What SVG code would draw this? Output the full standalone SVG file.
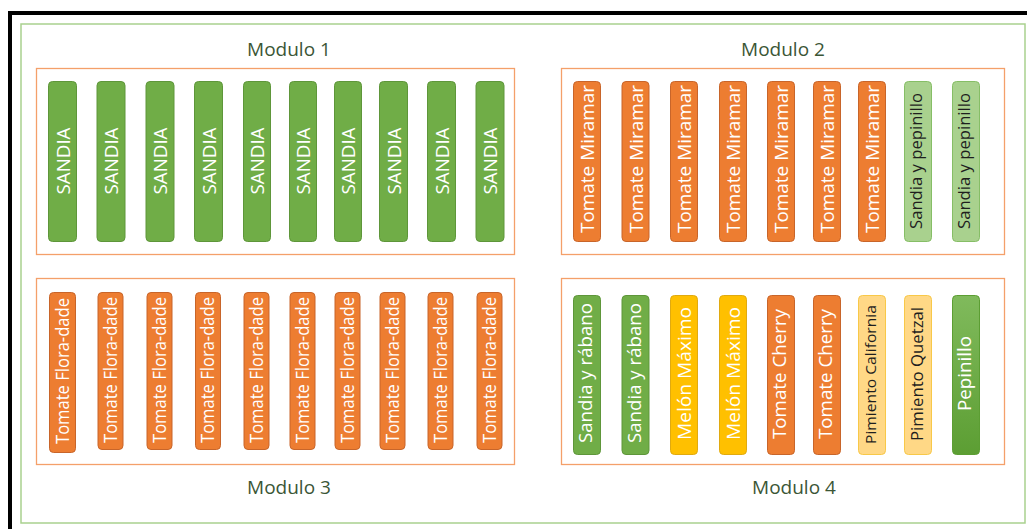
<svg xmlns="http://www.w3.org/2000/svg" width="1027" height="529" viewBox="0 0 1027 529">
<defs>
<linearGradient id="gPep" x1="0" y1="0" x2="0" y2="1">
<stop offset="0" stop-color="#80BA5C"/>
<stop offset="1" stop-color="#5C9E33"/>
</linearGradient>
<style>
.frame{fill:none;stroke:#000;stroke-width:4}
.outer{fill:#fff;stroke:#A9D18E;stroke-width:1.5}
.mod{fill:none;stroke:#F4A06A;stroke-width:1.3}
.title{font-family:"Open Sans","Liberation Sans",sans-serif;font-size:19px;fill:#3B5636;text-anchor:middle}
.b{stroke-width:1}
.green{fill:#70AD47;stroke:#5E963A}
.orange{fill:#ED7D31;stroke:#C8652A}
.yellow{fill:#FFC000;stroke:#E0AA10}
.lyellow{fill:#FFD886;stroke:#F8C848}
.lgreen{fill:#A9D18E;stroke:#86BE66}
.pep{fill:url(#gPep);stroke:#5C9E33}
.t{font-family:"Open Sans","Liberation Sans",sans-serif;text-anchor:middle}
.w{fill:#fff}
.k{fill:#1E1E1E}
</style>
</defs>
<rect width="1027" height="529" fill="#fff"/>
<path class="frame" d="M10,529 V13 H1027"/>
<rect class="outer" x="21" y="24" width="1004" height="499"/>

<g id="modulo1">
<rect class="mod" x="36.5" y="68.5" width="478" height="186"/>
<text class="title" x="289" y="56">Modulo 1</text>
</g>
<g id="modulo2">
<rect class="mod" x="561.5" y="68.5" width="443" height="186"/>
<text class="title" x="783" y="56">Modulo 2</text>
</g>
<g id="modulo3">
<rect class="mod" x="36.5" y="278.5" width="478" height="186"/>
<text class="title" x="289" y="494">Modulo 3</text>
</g>
<g id="modulo4">
<rect class="mod" x="561.5" y="278.5" width="443" height="186"/>
<text class="title" x="794" y="494">Modulo 4</text>
</g>

<g id="m1-bars">
<g id="m1b1"><rect class="b green" x="48.5" y="81.5" width="28" height="160" rx="4"/><text class="t w" font-size="19" textLength="67" lengthAdjust="spacingAndGlyphs" transform="translate(62.5,161) rotate(-90)" y="7">SANDIA</text></g>
<g id="m1b2"><rect class="b green" x="97" y="81.5" width="28" height="160" rx="4"/><text class="t w" font-size="19" textLength="67" lengthAdjust="spacingAndGlyphs" transform="translate(111,161) rotate(-90)" y="7">SANDIA</text></g>
<g id="m1b3"><rect class="b green" x="146" y="81.5" width="28" height="160" rx="4"/><text class="t w" font-size="19" textLength="67" lengthAdjust="spacingAndGlyphs" transform="translate(160,161) rotate(-90)" y="7">SANDIA</text></g>
<g id="m1b4"><rect class="b green" x="194.5" y="81.5" width="28" height="160" rx="4"/><text class="t w" font-size="19" textLength="67" lengthAdjust="spacingAndGlyphs" transform="translate(208.5,161) rotate(-90)" y="7">SANDIA</text></g>
<g id="m1b5"><rect class="b green" x="243.5" y="81.5" width="27" height="160" rx="4"/><text class="t w" font-size="19" textLength="67" lengthAdjust="spacingAndGlyphs" transform="translate(257,161) rotate(-90)" y="7">SANDIA</text></g>
<g id="m1b6"><rect class="b green" x="289.5" y="81.5" width="27" height="160" rx="4"/><text class="t w" font-size="19" textLength="67" lengthAdjust="spacingAndGlyphs" transform="translate(303,161) rotate(-90)" y="7">SANDIA</text></g>
<g id="m1b7"><rect class="b green" x="334.5" y="81.5" width="27" height="160" rx="4"/><text class="t w" font-size="19" textLength="67" lengthAdjust="spacingAndGlyphs" transform="translate(348,161) rotate(-90)" y="7">SANDIA</text></g>
<g id="m1b8"><rect class="b green" x="379.5" y="81.5" width="28" height="160" rx="4"/><text class="t w" font-size="19" textLength="67" lengthAdjust="spacingAndGlyphs" transform="translate(393.5,161) rotate(-90)" y="7">SANDIA</text></g>
<g id="m1b9"><rect class="b green" x="427.5" y="81.5" width="28" height="160" rx="4"/><text class="t w" font-size="19" textLength="67" lengthAdjust="spacingAndGlyphs" transform="translate(441.5,161) rotate(-90)" y="7">SANDIA</text></g>
<g id="m1b10"><rect class="b green" x="476" y="81.5" width="28" height="160" rx="4"/><text class="t w" font-size="19" textLength="67" lengthAdjust="spacingAndGlyphs" transform="translate(490,161) rotate(-90)" y="7">SANDIA</text></g>
</g>

<g id="m2-bars">
<g id="m2b1"><rect class="b orange" x="573.5" y="81.5" width="27" height="160" rx="4"/><text class="t w" font-size="19" textLength="148" lengthAdjust="spacingAndGlyphs" transform="translate(587,159) rotate(-90)" y="7">Tomate Miramar</text></g>
<g id="m2b2"><rect class="b orange" x="622" y="81.5" width="27" height="160" rx="4"/><text class="t w" font-size="19" textLength="148" lengthAdjust="spacingAndGlyphs" transform="translate(635.5,159) rotate(-90)" y="7">Tomate Miramar</text></g>
<g id="m2b3"><rect class="b orange" x="670.5" y="81.5" width="27" height="160" rx="4"/><text class="t w" font-size="19" textLength="148" lengthAdjust="spacingAndGlyphs" transform="translate(684,159) rotate(-90)" y="7">Tomate Miramar</text></g>
<g id="m2b4"><rect class="b orange" x="719.5" y="81.5" width="27" height="160" rx="4"/><text class="t w" font-size="19" textLength="148" lengthAdjust="spacingAndGlyphs" transform="translate(733,159) rotate(-90)" y="7">Tomate Miramar</text></g>
<g id="m2b5"><rect class="b orange" x="767.5" y="81.5" width="27" height="160" rx="4"/><text class="t w" font-size="19" textLength="148" lengthAdjust="spacingAndGlyphs" transform="translate(781,159) rotate(-90)" y="7">Tomate Miramar</text></g>
<g id="m2b6"><rect class="b orange" x="813.5" y="81.5" width="27" height="160" rx="4"/><text class="t w" font-size="19" textLength="148" lengthAdjust="spacingAndGlyphs" transform="translate(827,159) rotate(-90)" y="7">Tomate Miramar</text></g>
<g id="m2b7"><rect class="b orange" x="858.5" y="81.5" width="27" height="160" rx="4"/><text class="t w" font-size="19" textLength="148" lengthAdjust="spacingAndGlyphs" transform="translate(872,159) rotate(-90)" y="7">Tomate Miramar</text></g>
<g id="m2b8"><rect class="b lgreen" x="904.5" y="81.5" width="27" height="160" rx="4"/><text class="t k" font-size="16" textLength="136" lengthAdjust="spacingAndGlyphs" transform="translate(918,161) rotate(-90)" y="4">Sandia y pepinillo</text></g>
<g id="m2b9"><rect class="b lgreen" x="952.5" y="81.5" width="27" height="160" rx="4"/><text class="t k" font-size="16" textLength="136" lengthAdjust="spacingAndGlyphs" transform="translate(966,161) rotate(-90)" y="4">Sandia y pepinillo</text></g>
</g>

<g id="m3-bars">
<g id="m3b1"><rect class="b orange" x="49.5" y="292.5" width="26" height="160" rx="4"/><text class="t w" font-size="18" textLength="146" lengthAdjust="spacingAndGlyphs" transform="translate(62.5,371) rotate(-90)" y="6">Tomate Flora-dade</text></g>
<g id="m3b2"><rect class="b orange" x="98" y="292.5" width="25" height="157" rx="4"/><text class="t w" font-size="18" textLength="146" lengthAdjust="spacingAndGlyphs" transform="translate(110.5,370) rotate(-90)" y="6">Tomate Flora-dade</text></g>
<g id="m3b3"><rect class="b orange" x="147" y="292.5" width="25" height="157" rx="4"/><text class="t w" font-size="18" textLength="146" lengthAdjust="spacingAndGlyphs" transform="translate(159.5,370) rotate(-90)" y="6">Tomate Flora-dade</text></g>
<g id="m3b4"><rect class="b orange" x="195.5" y="292.5" width="25" height="157" rx="4"/><text class="t w" font-size="18" textLength="146" lengthAdjust="spacingAndGlyphs" transform="translate(208,370) rotate(-90)" y="6">Tomate Flora-dade</text></g>
<g id="m3b5"><rect class="b orange" x="244" y="292.5" width="25" height="157" rx="4"/><text class="t w" font-size="18" textLength="146" lengthAdjust="spacingAndGlyphs" transform="translate(256.5,370) rotate(-90)" y="6">Tomate Flora-dade</text></g>
<g id="m3b6"><rect class="b orange" x="290" y="292.5" width="25" height="157" rx="4"/><text class="t w" font-size="18" textLength="146" lengthAdjust="spacingAndGlyphs" transform="translate(302.5,370) rotate(-90)" y="6">Tomate Flora-dade</text></g>
<g id="m3b7"><rect class="b orange" x="335" y="292.5" width="25" height="157" rx="4"/><text class="t w" font-size="18" textLength="146" lengthAdjust="spacingAndGlyphs" transform="translate(347.5,370) rotate(-90)" y="6">Tomate Flora-dade</text></g>
<g id="m3b8"><rect class="b orange" x="380" y="292.5" width="25" height="157" rx="4"/><text class="t w" font-size="18" textLength="146" lengthAdjust="spacingAndGlyphs" transform="translate(392.5,370) rotate(-90)" y="6">Tomate Flora-dade</text></g>
<g id="m3b9"><rect class="b orange" x="428" y="292.5" width="25" height="157" rx="4"/><text class="t w" font-size="18" textLength="146" lengthAdjust="spacingAndGlyphs" transform="translate(440.5,370) rotate(-90)" y="6">Tomate Flora-dade</text></g>
<g id="m3b10"><rect class="b orange" x="477" y="292.5" width="25" height="157" rx="4"/><text class="t w" font-size="18" textLength="146" lengthAdjust="spacingAndGlyphs" transform="translate(489.5,370) rotate(-90)" y="6">Tomate Flora-dade</text></g>
</g>

<g id="m4-bars">
<g id="m4b1"><rect class="b green" x="573.5" y="295.5" width="27" height="159" rx="4"/><text class="t w" font-size="18" textLength="140" lengthAdjust="spacingAndGlyphs" transform="translate(587,373) rotate(-90)" y="5">Sandia y rábano</text></g>
<g id="m4b2"><rect class="b green" x="622" y="295.5" width="27" height="159" rx="4"/><text class="t w" font-size="18" textLength="140" lengthAdjust="spacingAndGlyphs" transform="translate(635.5,373) rotate(-90)" y="5">Sandia y rábano</text></g>
<g id="m4b3"><rect class="b yellow" x="670.5" y="295.5" width="27" height="159" rx="4"/><text class="t w" font-size="18" textLength="133" lengthAdjust="spacingAndGlyphs" transform="translate(684,373.5) rotate(-90)" y="6.5">Melón Máximo</text></g>
<g id="m4b4"><rect class="b yellow" x="719.5" y="295.5" width="27" height="159" rx="4"/><text class="t w" font-size="18" textLength="133" lengthAdjust="spacingAndGlyphs" transform="translate(733,373.5) rotate(-90)" y="6.5">Melón Máximo</text></g>
<g id="m4b5"><rect class="b orange" x="767.5" y="295.5" width="27" height="159" rx="4"/><text class="t w" font-size="18" textLength="130" lengthAdjust="spacingAndGlyphs" transform="translate(781,374) rotate(-90)" y="5">Tomate Cherry</text></g>
<g id="m4b6"><rect class="b orange" x="813.5" y="295.5" width="27" height="159" rx="4"/><text class="t w" font-size="18" textLength="130" lengthAdjust="spacingAndGlyphs" transform="translate(827,374) rotate(-90)" y="5">Tomate Cherry</text></g>
<g id="m4b7"><rect class="b lyellow" x="858.5" y="295.5" width="27" height="159" rx="4"/><text class="t k" font-size="15" textLength="139" lengthAdjust="spacingAndGlyphs" transform="translate(872,374.5) rotate(-90)" y="4">Pimiento California</text></g>
<g id="m4b8"><rect class="b lyellow" x="904.5" y="295.5" width="27" height="159" rx="4"/><text class="t k" font-size="17" textLength="134" lengthAdjust="spacingAndGlyphs" transform="translate(918,374) rotate(-90)" y="4.5">Pimiento Quetzal</text></g>
<g id="m4b9"><rect class="b pep" x="952.5" y="295.5" width="27" height="159" rx="4"/><text class="t w" font-size="18" textLength="75" lengthAdjust="spacingAndGlyphs" transform="translate(966,373.5) rotate(-90)" y="5">Pepinillo</text></g>
</g>

<g id="connectors"></g>
</svg>
